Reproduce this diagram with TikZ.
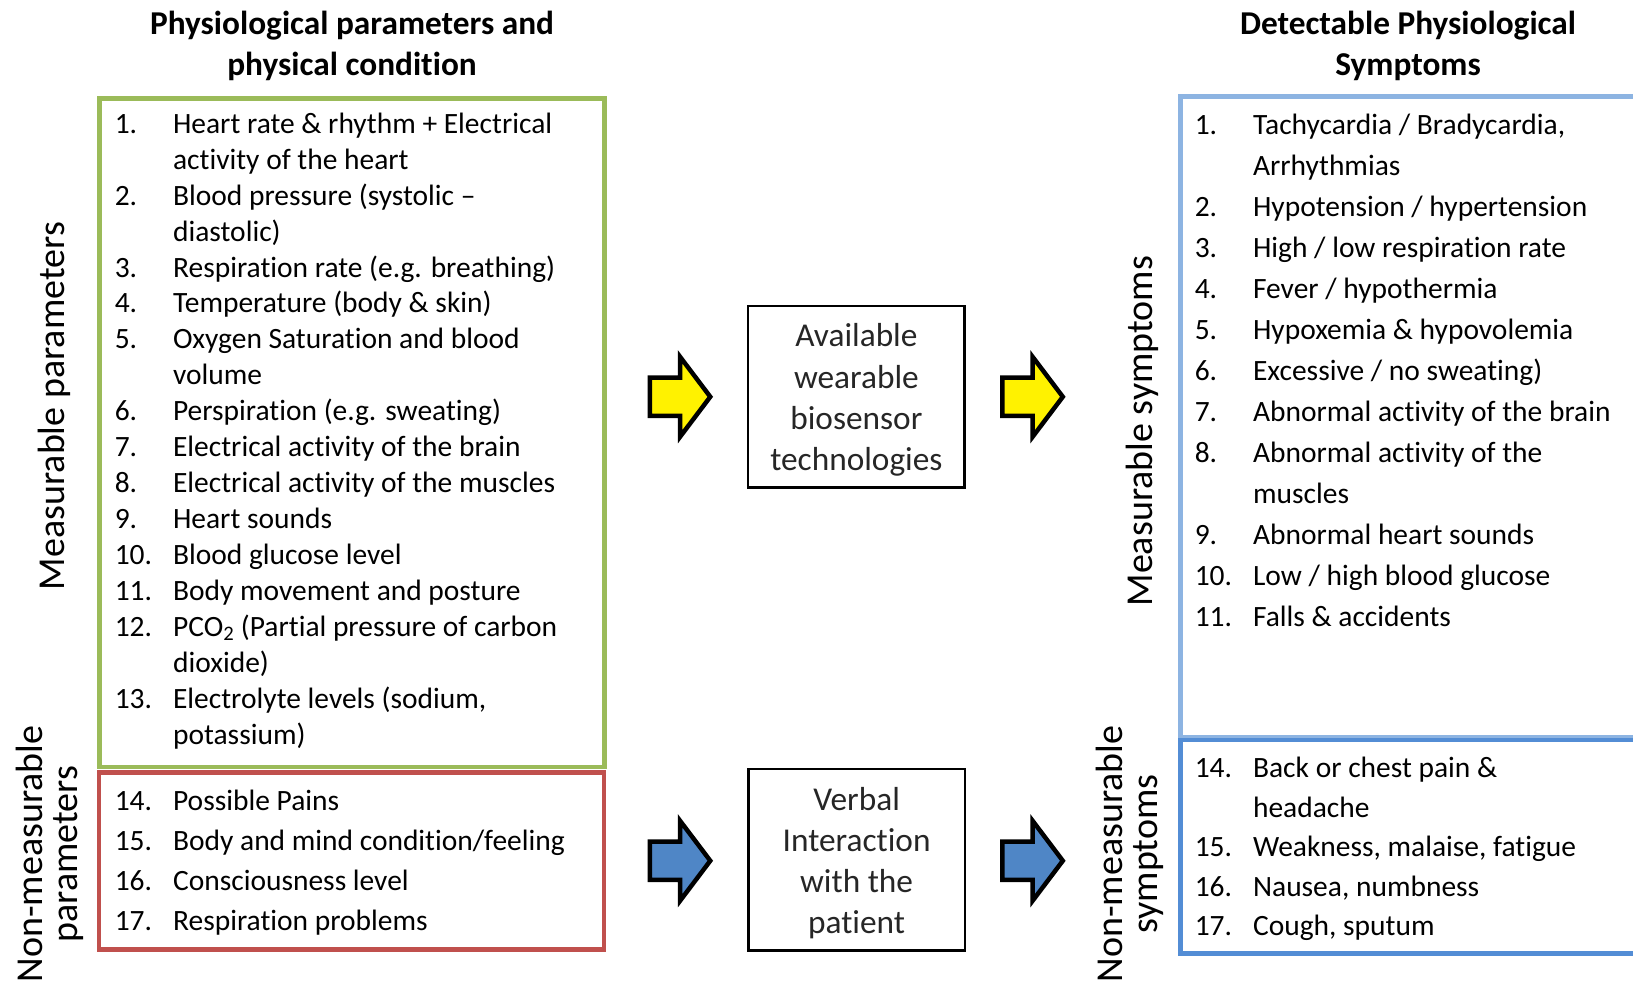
\documentclass[tikz,border=0pt]{standalone}
\usepackage{fontspec}
\setmainfont{Carlito}[Ligatures=NoCommon]
\definecolor{frgreen}{RGB}{155,187,89}
\definecolor{frred}{RGB}{192,80,77}
\definecolor{frlight}{RGB}{141,180,226}
\definecolor{frdark}{RGB}{83,141,213}
\definecolor{arrblue}{RGB}{79,134,198}
\newcommand\itemfont{\fontsize{28.3}{34.5}\selectfont}
\newcommand\headfont{\bfseries\fontsize{32}{40}\selectfont}
\newcommand\boxfont{\fontsize{32}{39.5}\selectfont}
\newcommand\sidefont{\fontsize{36.5}{34}\selectfont}
\begin{document}
\begin{tikzpicture}[x=1pt,y=-1pt,
  item/.style={anchor=base west, inner sep=0pt, font=\itemfont},
  head/.style={align=center, inner sep=0pt, font=\headfont},
  side/.style={align=center, inner sep=0pt, rotate=90, font=\sidefont},
  frame/.style={draw=#1, line width=4.5pt, inner sep=0pt, outer sep=0pt, anchor=north west},
  techbox/.style={draw, line width=2.5pt, inner sep=0pt, outer sep=0pt,
    minimum width=208pt, minimum height=174pt},
  techtext/.style={align=center, inner sep=0pt, font=\boxfont, text=black!85},
  blockarrow/.pic={
    \draw[pic actions, line width=4.3pt, line join=miter]
      (-29,-18.4) -- (0,-18.4) -- (0,-38.4) -- (29,0) -- (0,38.4)
      -- (0,18.4) -- (-29,18.4) -- cycle;}
]
\useasboundingbox (0,0) rectangle (1568,948);
\clip (0,0) rectangle (1568,948);

% headings
\node[head] (headL) at (338,44) {Physiological parameters and\\physical condition};
\node[head] (headR) at (1352,44) {Detectable Physiological\\Symptoms};

% frames around the parameter and symptom lists
\node[frame=frgreen, minimum width=485pt, minimum height=642pt] (measpar) at (95.5,94.5) {};
\node[frame=frred, minimum width=485pt, minimum height=170.5pt] (nonpar) at (95,741.5) {};
\node[frame=frlight, minimum width=480pt, minimum height=615.5pt] (meassym) at (1133.5,92.5) {};
\node[frame=frdark, minimum width=480pt, minimum height=205pt] (nonsym) at (1133.5,710.5) {};

% side labels
\node[side] (labMP) at (52,390) {Measurable parameters};
\node[side] (labNP) at (48,820) {Non-measurable\\parameters};
\node[side] (labMS) at (1097,414) {Measurable symptoms};
\node[side] (labNS) at (1085,820) {Non-measurable\\symptoms};

% measurable parameters
\foreach \k/\n in {0/1, 2/2, 4/3, 5/4, 6/5, 8/6, 9/7, 10/8, 11/9, 12/10, 13/11, 14/12, 16/13}
  \node[item] (pn\n) at (110,{128+34.5*\k}) {\n.};
\foreach \t [count=\k from 0] in {
  {Heart rate \& rhythm + Electrical},
  {activity of the heart},
  {Blood pressure (systolic \textendash},
  {diastolic)},
  {Respiration rate (e.g. breathing)},
  {Temperature (body \& skin)},
  {Oxygen Saturation and blood},
  {volume},
  {Perspiration (e.g. sweating)},
  {Electrical activity of the brain},
  {Electrical activity of the muscles},
  {Heart sounds},
  {Blood glucose level},
  {Body movement and posture},
  {PCO\textsubscript{2} (Partial pressure of carbon},
  {dioxide)},
  {Electrolyte levels (sodium,},
  {potassium)}}
  \node[item] (pt\k) at (166,{128+34.5*\k}) {\t};

% non-measurable parameters
\foreach \t [count=\k from 0, evaluate=\k as \n using int(\k+14)] in {
  {Possible Pains},
  {Body and mind condition/feeling},
  {Consciousness level},
  {Respiration problems}}
  {\node[item] (qn\n) at (110,{778.5+38.3*\k}) {\n.};
   \node[item] (qt\k) at (166,{778.5+38.3*\k}) {\t};}

% measurable symptoms
\foreach \k/\n in {0/1, 2/2, 3/3, 4/4, 5/5, 6/6, 7/7, 8/8, 10/9, 11/10, 12/11}
  \node[item] (sn\n) at (1147,{129.5+39.33*\k}) {\n.};
\foreach \t [count=\k from 0] in {
  {Tachycardia / Bradycardia,},
  {Arrhythmias},
  {Hypotension / hypertension},
  {High / low respiration rate},
  {Fever / hypothermia},
  {Hypoxemia \& hypovolemia},
  {Excessive / no sweating)},
  {Abnormal activity of the brain},
  {Abnormal activity of the},
  {muscles},
  {Abnormal heart sounds},
  {Low / high blood glucose},
  {Falls \& accidents}}
  \node[item] (st\k) at (1203,{129.5+39.33*\k}) {\t};

% non-measurable symptoms
\foreach \k/\n in {0/14, 2/15, 3/16, 4/17}
  \node[item] (un\n) at (1147,{746.5+38*\k}) {\n.};
\foreach \t [count=\k from 0] in {
  {Back or chest pain \&},
  {headache},
  {Weakness, malaise, fatigue},
  {Nausea, numbness},
  {Cough, sputum}}
  \node[item] (ut\k) at (1203,{746.5+38*\k}) {\t};

% middle boxes and their captions
\node[techbox] (sensors) at (822.3,381) {};
\node[techtext] (sensorstext) at ([yshift=-3pt]sensors.center) {Available\\wearable\\biosensor\\technologies};
\node[techbox] (verbal) at (822.5,825.5) {};
\node[techtext] (verbaltext) at ([yshift=-3pt]verbal.center) {Verbal\\Interaction\\with the\\patient};

% block arrows between the columns
\coordinate (a1) at (653,381);
\coordinate (a2) at (991.5,381);
\coordinate (a3) at (653,826.5);
\coordinate (a4) at (991.5,826.5);
\pic[fill=yellow] at (a1) {blockarrow};
\pic[fill=yellow] at (a2) {blockarrow};
\pic[fill=arrblue] at (a3) {blockarrow};
\pic[fill=arrblue] at (a4) {blockarrow};
\end{tikzpicture}
\end{document}
